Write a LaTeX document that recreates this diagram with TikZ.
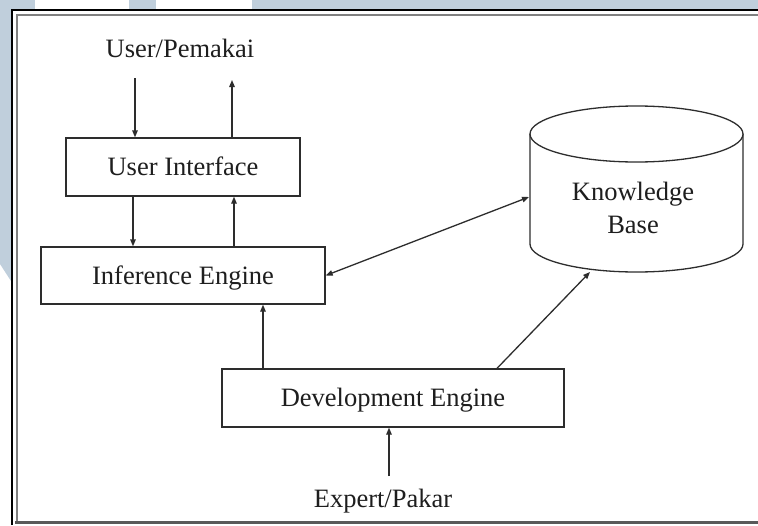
\documentclass[tikz,border=0pt]{standalone}
\usepackage{fontspec}
\setmainfont{Liberation Serif}
\usetikzlibrary{arrows.meta}
\definecolor{wm}{RGB}{192,207,220}
\definecolor{ink}{RGB}{30,30,30}
\definecolor{edge}{RGB}{45,45,45}
\tikzset{
  box/.style={draw=edge, line width=1.3pt, rectangle, inner sep=0pt,
    text height=17.5pt, text depth=0pt, text=ink},
  lbl/.style={inner sep=0pt, text=ink, anchor=base},
  arr/.style={draw=edge, line width=1.3pt, -{Triangle[length=7pt,width=5.5pt]}},
  biarr/.style={draw=edge, line width=1.3pt,
    {Triangle[length=7pt,width=5.5pt]}-{Triangle[length=7pt,width=5.5pt]}},
  drum/.style={draw=edge, line width=1.3pt, fill=white},
}
\begin{document}
\begin{tikzpicture}[x=1pt, y=-1pt, font=\fontsize{26.5}{33}\selectfont]
\useasboundingbox (0,0) rectangle (758,525);
\fill[white] (0,0) rectangle (758,525);

% page background bands behind the frame
\fill[wm] (0,0) rectangle (35,10);
\fill[wm] (129,0) rectangle (156,10);
\fill[wm] (252,0) rectangle (758,10);
\fill[wm] (0,0) -- (11,0) -- (11,281) -- (0,264) -- cycle;

% double frame
\draw[black, line width=1.8pt] (12,525) -- (12,10) -- (758,10);
\draw[gray, line width=1.8pt] (17,521) -- (17,15) -- (758,15);
\draw[black!65, line width=3pt] (15,522.5) -- (758,522.5);

% blocks
\node[box, minimum width=234pt, minimum height=58pt] (ui) at (183,167)
  {User Interface\hspace{6pt}};
\node[box, minimum width=284pt, minimum height=57pt] (ie) at (183,275.5)
  {Inference Engine\hspace{14pt}};
\node[box, minimum width=342pt, minimum height=58pt] (dev) at (393,398)
  {Development Engine\hspace{15pt}};

% actors
\node[lbl] (user) at (180,57) {User/Pemakai};
\node[lbl] (expert) at (383,507) {Expert/Pakar};

% knowledge base drum
\draw[drum] (530,134) -- (530,244)
  arc[start angle=180, end angle=360, x radius=106.5pt, y radius=28pt]
  -- (743,134);
\draw[drum] (636.5,134) ellipse [x radius=106.5pt, y radius=28pt];
\node[inner sep=0pt, align=center, text=ink] (kb) at (633,207.5) {Knowledge\\Base};

% connector end points
\coordinate (uin) at (135,78);
\coordinate (uout) at (232,80);
\coordinate (ieb) at ([xshift=80pt]ie.south);
\coordinate (xin) at (389,476);
\coordinate (kbL) at (529,197);
\coordinate (kbB) at (590,272);

% connectors
\draw[arr] (uin) -- (uin |- ui.north);
\draw[arr] (uout |- ui.north) -- (uout);
\draw[arr] ([xshift=-50pt]ui.south) -- ([xshift=-50pt]ie.north);
\draw[arr] ([xshift=51pt]ie.north) -- ([xshift=51pt]ui.south);
\draw[arr] (ieb |- dev.north) -- (ieb);
\draw[arr] (xin) -- (xin |- dev.south);
\draw[biarr] (ie.east) -- (kbL);
\draw[arr] ([xshift=104pt]dev.north) -- (kbB);
\end{tikzpicture}
\end{document}
